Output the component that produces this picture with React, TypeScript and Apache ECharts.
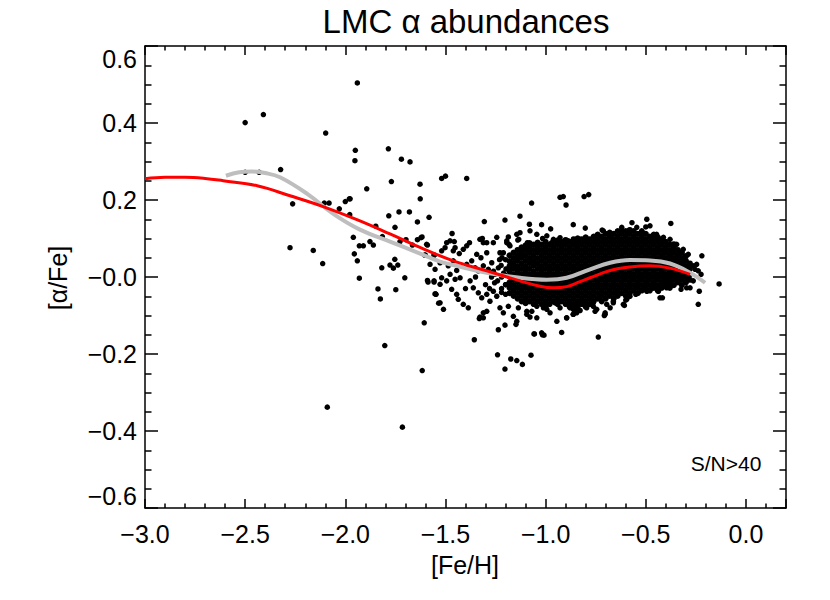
import React, { useEffect, useRef } from "react";
import * as echarts from "echarts";

const titleText = "LMC α abundances";
const xName = "[Fe/H]";
const yName = "[α/Fe]";
const noteText = "S/N>40";

// isolated stars, [Fe/H], [alpha/Fe]
const sparseStars: [number, number][] = [
  [-2.5, 0.401], [-2.409, 0.422], [-1.94, 0.504], [-2.098, 0.374], [-1.95, 0.329], [-1.952, 0.302],
  [-1.785, 0.333], [-1.72, 0.306], [-1.677, 0.299], [-2.323, 0.279], [-1.893, 0.229], [-1.77, 0.248],
  [-1.627, 0.241], [-1.519, 0.256], [-1.5, 0.262], [-1.394, 0.256], [-1.626, 0.203], [-1.98, 0.203],
  [-2.5, 0.272], [-2.43, 0.272],
  [-2.263, 0.19], [-2.276, 0.076], [-2.16, 0.069], [-2.113, 0.035], [-2.105, 0.192], [-2.081, 0.192],
  [-2.03, 0.177], [-2.0, 0.196], [-1.976, 0.203], [-1.978, 0.162], [-1.783, 0.159], [-1.732, 0.169],
  [-1.68, 0.169], [-1.64, 0.143], [-1.582, 0.155], [-1.848, 0.132], [-1.752, 0.129], [-1.96, 0.103],
  [-1.93, 0.081], [-1.91, 0.081], [-1.877, 0.092], [-1.86, 0.083], [-1.815, 0.105], [-1.727, 0.092],
  [-1.697, 0.097], [-1.64, 0.097], [-1.622, 0.102], [-1.665, 0.083], [-1.59, 0.083], [-1.6, 0.057],
  [-1.556, 0.057], [-1.955, 0.06], [-1.94, 0.042], [-1.93, -0.003], [-1.818, 0.024], [-1.777, 0.031],
  [-1.76, 0.023], [-1.738, 0.031], [-1.753, 0.046], [-1.703, -0.002], [-1.837, -0.031], [-1.825, -0.057],
  [-1.748, -0.033], [-1.587, -0.013], [-1.557, -0.013], [-1.55, -0.044], [-1.534, -0.068], [-1.606, -0.119],
  [-1.803, -0.178], [-1.616, -0.243], [-2.09, -0.338], [-1.715, -0.39],
  [-0.928, 0.207], [-0.912, 0.209], [-0.898, 0.187], [-0.808, 0.209], [-0.785, 0.214], [-1.07, 0.192],
  [-1.128, 0.158], [-1.203, 0.148], [-1.306, 0.144], [-1.081, 0.137], [-1.02, 0.136], [-0.975, 0.125],
  [-0.862, 0.136], [-0.802, 0.127], [-0.718, 0.122], [-0.569, 0.141], [-0.495, 0.15], [-0.375, 0.139],
  [-0.22, 0.055], [-0.134, -0.018], [-0.238, -0.071], [-0.233, -0.037],
  [-1.356, -0.163], [-1.236, -0.137], [-1.203, -0.125], [-1.148, -0.123], [-1.058, -0.148], [-1.02, -0.145],
  [-1.008, -0.151], [-0.92, -0.144], [-0.737, -0.156], [-1.328, -0.104], [-1.311, -0.093], [-1.078, -0.104],
  [-0.895, -0.106], [-0.845, -0.093], [-0.828, -0.087], [-0.703, -0.097], [-1.51, -0.084], [-1.547, -0.045],
  [-1.24, -0.202], [-1.174, -0.213], [-1.144, -0.217], [-1.116, -0.227], [-1.203, -0.239], [-1.073, -0.203],
  [-1.056, -0.148], [-1.016, -0.15], [-1.331, -0.108], [-0.707, -0.1],
];

// moderately crowded stars on the metal-poor side of the clump
const midStars: [number, number][] = [
  [-1.467, 0.113], [-1.617, 0.104], [-1.186, 0.104], [-1.128, 0.115], [-1.494, 0.089], [-1.456, 0.092],
  [-1.38, 0.089], [-1.316, 0.1], [-1.311, 0.089], [-1.261, 0.089], [-1.183, 0.085], [-1.139, 0.096],
  [-1.091, 0.089], [-1.015, 0.1], [-0.97, 0.089], [-0.923, 0.085], [-1.594, 0.085], [-1.604, 0.057],
  [-1.557, 0.057], [-1.519, 0.068], [-1.502, 0.076], [-1.461, 0.068], [-1.431, 0.061], [-1.411, 0.072],
  [-1.344, 0.059], [-1.323, 0.05], [-1.294, 0.063], [-1.228, 0.063], [-1.211, 0.063], [-1.194, 0.094],
  [-1.178, 0.081], [-1.144, 0.111], [-1.134, 0.098], [-1.59, -0.009], [-1.557, -0.01], [-1.527, -0.019],
  [-1.519, -0.002], [-1.494, -0.01], [-1.477, 0.007], [-1.452, -0.006], [-1.427, -0.002], [-1.552, -0.044],
  [-1.527, -0.067], [-1.469, -0.032], [-1.444, -0.045], [-1.436, -0.058], [-1.411, -0.071], [-1.386, -0.08],
  [-1.377, -0.01], [-1.361, -0.028], [-1.336, -0.041], [-1.319, -0.054], [-1.294, -0.045], [-1.278, -0.063],
  [-1.261, -0.037], [-1.244, -0.05], [-1.394, 0.033], [-1.369, 0.042], [-1.352, 0.024], [-1.336, 0.016],
  [-1.311, 0.029], [-1.286, 0.02], [-1.269, 0.037], [-1.253, 0.007], [-1.236, 0.024], [-1.294, -0.089],
  [-1.311, -0.106], [-1.228, -0.08], [-1.211, -0.093], [-1.186, -0.076], [-1.161, -0.102], [-1.144, -0.115],
  [-1.094, -0.097], [-1.069, -0.089], [-1.044, -0.106], [-1.011, -0.08], [-0.978, -0.093], [-0.944, -0.115],
  [-0.895, -0.106], [-0.862, -0.097], [-1.527, 0.037], [-1.552, 0.02], [-1.577, 0.033], [-1.486, 0.029],
  [-1.461, 0.042], [-1.444, 0.017], [-1.477, 0.094], [-1.452, 0.076], [-1.394, 0.081], [-1.328, 0.098],
  [-1.294, 0.089], [-1.244, 0.103], [-1.194, 0.089], [-1.21, 0.01], [-1.2, -0.02], [-1.22, -0.04],
  [-1.255, -0.015], [-1.27, 0.0], [-1.3, -0.02], [-1.23, 0.045], [-1.35, 0.0], [-1.4, -0.03],
  [-1.22, -0.03], [-1.22, 0.0], [-1.222, 0.03], [-1.218, 0.05], [-1.2, -0.045], [-1.2, -0.02],
  [-1.202, 0.005], [-1.198, 0.021], [-1.2, 0.045], [-1.24, -0.01], [-1.26, 0.015], [-1.28, -0.03],
];

// edge of the dense clump
const fringeStars: [number, number][] = [
  [-1.078, 0.12], [-1.044, 0.111], [-0.994, 0.107], [-0.961, 0.098], [-0.928, 0.102], [-0.887, 0.094],
  [-0.845, 0.081], [-0.712, 0.12], [-0.67, 0.111], [-0.62, 0.129], [-0.595, 0.116], [-0.545, 0.129],
  [-0.52, 0.12], [-0.479, 0.133], [-0.446, 0.111], [-0.412, 0.103], [-0.379, 0.098], [-0.346, 0.085],
  [-0.313, 0.072], [-0.288, 0.059], [-0.878, -0.08], [-0.828, -0.067], [-0.778, -0.054], [-0.728, -0.05],
  [-0.645, -0.037], [-0.545, -0.024], [-0.495, -0.019], [-0.446, -0.028], [-0.396, -0.01], [-0.346, -0.002],
  [-0.296, 0.003], [-0.279, -0.028], [-0.263, -0.01], [-0.246, 0.033], [-0.254, 0.02], [-0.612, -0.071],
  [-0.595, -0.058], [-0.495, -0.037], [-0.429, -0.054], [-0.437, -0.037], [-0.396, -0.028], [-0.762, -0.076],
  [-0.745, -0.084], [-0.695, -0.071], [-0.662, -0.063], [-0.703, -0.093], [-1.136, -0.08], [-1.094, -0.089],
  [-1.044, -0.076], [-0.994, -0.084], [-0.953, -0.067], [-0.928, -0.08], [-0.862, -0.071], [-0.795, -0.08],
  [-0.762, -0.067], [-0.607, -0.074], [-0.579, -0.05], [-0.417, -0.054], [-0.678, -0.08], [-0.662, -0.067],
  [-0.753, -0.089], [-0.845, -0.089], [-0.862, -0.097], [-0.324, -0.032], [-0.296, -0.028], [-0.379, -0.024],
  [-0.263, 0.029], [-0.238, 0.016], [-0.224, 0.007], [-0.6, -0.06], [-0.55, -0.045], [-0.5, 0.13],
];

// dense clump, listed column by column: [Fe/H], then the [alpha/Fe] values read in that column
const coreColumns: [number, number[]][] = [
  [-1.18, [-0.042, -0.028, -0.014, 0.001, 0.014, 0.028, 0.041, 0.056]],
  [-1.16, [-0.049, -0.035, -0.021, -0.007, 0.007, 0.022, 0.035, 0.049, 0.063]],
  [-1.14, [-0.056, -0.042, -0.028, -0.013, 0.0, 0.014, 0.028, 0.043, 0.056, 0.07]],
  [-1.12, [-0.063, -0.049, -0.035, -0.021, -0.006, 0.007, 0.021, 0.035, 0.05, 0.063, 0.077]],
  [-1.1, [-0.068, -0.056, -0.042, -0.028, -0.014, 0.001, 0.014, 0.028, 0.042, 0.056, 0.07, 0.082]],
  [-1.08, [-0.063, -0.049, -0.035, -0.021, -0.007, 0.007, 0.021, 0.036, 0.049, 0.063, 0.077, 0.088]],
  [-1.06, [-0.07, -0.056, -0.042, -0.028, -0.014, 0.0, 0.014, 0.029, 0.042, 0.056, 0.07, 0.084]],
  [-1.04, [-0.063, -0.049, -0.035, -0.021, -0.007, 0.007, 0.021, 0.035, 0.049, 0.064, 0.077, 0.089]],
  [-1.02, [-0.07, -0.056, -0.042, -0.028, -0.014, 0.001, 0.014, 0.028, 0.042, 0.056, 0.07, 0.084]],
  [-1.0, [-0.077, -0.063, -0.049, -0.035, -0.021, -0.007, 0.007, 0.021, 0.035, 0.049, 0.063, 0.077, 0.091]],
  [-0.98, [-0.07, -0.056, -0.042, -0.028, -0.014, 0.0, 0.014, 0.028, 0.042, 0.056, 0.07, 0.084]],
  [-0.96, [-0.063, -0.049, -0.035, -0.021, -0.007, 0.007, 0.021, 0.035, 0.049, 0.063, 0.077, 0.091]],
  [-0.94, [-0.07, -0.056, -0.042, -0.028, -0.014, 0.0, 0.014, 0.028, 0.042, 0.056, 0.07, 0.084, 0.095]],
  [-0.92, [-0.063, -0.049, -0.035, -0.021, -0.007, 0.007, 0.021, 0.035, 0.049, 0.063, 0.077, 0.091]],
  [-0.9, [-0.07, -0.056, -0.042, -0.028, -0.014, 0.0, 0.014, 0.028, 0.042, 0.056, 0.07, 0.084, 0.096]],
  [-0.88, [-0.077, -0.063, -0.049, -0.035, -0.021, -0.007, 0.007, 0.021, 0.035, 0.049, 0.063, 0.077, 0.091]],
  [-0.86, [-0.084, -0.07, -0.056, -0.042, -0.028, -0.014, 0.0, 0.014, 0.028, 0.042, 0.056, 0.07, 0.084, 0.098]],
  [-0.84, [-0.077, -0.063, -0.049, -0.035, -0.021, -0.007, 0.007, 0.021, 0.035, 0.049, 0.063, 0.077, 0.091, 0.1]],
  [-0.82, [-0.07, -0.056, -0.042, -0.028, -0.014, 0.0, 0.014, 0.028, 0.042, 0.056, 0.07, 0.084, 0.098]],
  [-0.8, [-0.077, -0.063, -0.049, -0.035, -0.021, -0.007, 0.007, 0.021, 0.035, 0.049, 0.063, 0.077, 0.091, 0.103]],
  [-0.78, [-0.07, -0.056, -0.042, -0.028, -0.014, 0.0, 0.014, 0.028, 0.042, 0.056, 0.07, 0.084, 0.098]],
  [-0.76, [-0.063, -0.049, -0.035, -0.021, -0.007, 0.007, 0.021, 0.035, 0.049, 0.063, 0.077, 0.091, 0.105]],
  [-0.74, [-0.056, -0.042, -0.028, -0.014, 0.0, 0.014, 0.028, 0.042, 0.056, 0.07, 0.084, 0.098, 0.11]],
  [-0.72, [-0.063, -0.049, -0.035, -0.021, -0.007, 0.007, 0.021, 0.035, 0.049, 0.063, 0.077, 0.091, 0.105]],
  [-0.7, [-0.056, -0.042, -0.028, -0.014, 0.0, 0.014, 0.028, 0.042, 0.056, 0.07, 0.084, 0.098, 0.112]],
  [-0.68, [-0.049, -0.035, -0.021, -0.007, 0.007, 0.021, 0.035, 0.049, 0.063, 0.077, 0.091, 0.105, 0.115]],
  [-0.66, [-0.056, -0.042, -0.028, -0.014, 0.0, 0.014, 0.028, 0.042, 0.056, 0.07, 0.084, 0.098, 0.112]],
  [-0.64, [-0.049, -0.035, -0.021, -0.007, 0.007, 0.021, 0.035, 0.049, 0.063, 0.077, 0.091, 0.105, 0.119]],
  [-0.62, [-0.042, -0.028, -0.014, 0.0, 0.014, 0.028, 0.042, 0.056, 0.07, 0.084, 0.098, 0.112, 0.121]],
  [-0.6, [-0.049, -0.035, -0.021, -0.007, 0.007, 0.021, 0.035, 0.049, 0.063, 0.077, 0.091, 0.105, 0.119]],
  [-0.58, [-0.042, -0.028, -0.014, 0.0, 0.014, 0.028, 0.042, 0.056, 0.07, 0.084, 0.098, 0.112, 0.122]],
  [-0.56, [-0.035, -0.021, -0.007, 0.007, 0.021, 0.035, 0.049, 0.063, 0.077, 0.091, 0.105, 0.119]],
  [-0.54, [-0.042, -0.028, -0.014, 0.0, 0.014, 0.028, 0.042, 0.056, 0.07, 0.084, 0.098, 0.112]],
  [-0.52, [-0.035, -0.021, -0.007, 0.007, 0.021, 0.035, 0.049, 0.063, 0.077, 0.091, 0.105, 0.117]],
  [-0.5, [-0.028, -0.014, 0.0, 0.014, 0.028, 0.042, 0.056, 0.07, 0.084, 0.098, 0.112]],
  [-0.48, [-0.035, -0.021, -0.007, 0.007, 0.021, 0.035, 0.049, 0.063, 0.077, 0.091, 0.105]],
  [-0.46, [-0.028, -0.014, 0.0, 0.014, 0.028, 0.042, 0.056, 0.07, 0.084, 0.098, 0.11]],
  [-0.44, [-0.035, -0.021, -0.007, 0.007, 0.021, 0.035, 0.049, 0.063, 0.077, 0.091, 0.103]],
  [-0.42, [-0.028, -0.014, 0.0, 0.014, 0.028, 0.042, 0.056, 0.07, 0.084, 0.098]],
  [-0.4, [-0.021, -0.007, 0.007, 0.021, 0.035, 0.049, 0.063, 0.077, 0.091]],
  [-0.38, [-0.028, -0.014, 0.0, 0.014, 0.028, 0.042, 0.056, 0.07, 0.084]],
  [-0.36, [-0.021, -0.007, 0.007, 0.021, 0.035, 0.049, 0.063, 0.077, 0.085]],
  [-0.34, [-0.014, 0.0, 0.014, 0.028, 0.042, 0.056, 0.07]],
  [-0.32, [-0.021, -0.007, 0.007, 0.021, 0.035, 0.049, 0.063]],
  [-0.3, [-0.014, 0.0, 0.014, 0.028, 0.042, 0.054]],
  [-0.28, [-0.007, 0.007, 0.021, 0.035]],
];

const grayFit: [number, number][] = [
  [-2.596, 0.263], [-2.53, 0.272], [-2.466, 0.274], [-2.4, 0.27], [-2.326, 0.259], [-2.19, 0.216],
  [-2.06, 0.164], [-1.927, 0.123], [-1.777, 0.092], [-1.642, 0.064], [-1.527, 0.04], [-1.461, 0.031],
  [-1.294, 0.011], [-1.128, -0.002], [-0.994, -0.007], [-0.895, -0.002], [-0.778, 0.02], [-0.678, 0.037],
  [-0.579, 0.044], [-0.479, 0.043], [-0.379, 0.035], [-0.279, 0.011], [-0.204, -0.015],
];

const redFit: [number, number][] = [
  [-3.0, 0.255], [-2.9, 0.259], [-2.8, 0.259], [-2.7, 0.256], [-2.61, 0.25], [-2.44, 0.237],
  [-2.276, 0.211], [-2.111, 0.183], [-1.942, 0.149], [-1.777, 0.112], [-1.627, 0.077], [-1.461, 0.042],
  [-1.294, 0.016], [-1.128, -0.01], [-1.028, -0.024], [-0.961, -0.028], [-0.895, -0.025], [-0.828, -0.012],
  [-0.778, -0.002], [-0.678, 0.017], [-0.579, 0.026], [-0.479, 0.029], [-0.379, 0.023], [-0.279, 0.007],
];

const X_MIN = -3.0;
const X_MAX = 0.2;
const Y_MIN = -0.6;
const Y_MAX = 0.6;

const FONT = '"Liberation Sans", Arial, Helvetica, sans-serif';
const MINUS = "\u2212";

function fmtX(v: number): string {
  if (Math.abs(v) < 1e-9) return "0.0";
  return (v < 0 ? MINUS : "") + Math.abs(v).toFixed(1);
}
function fmtY(v: number): string {
  if (Math.abs(v) < 1e-9) return MINUS + "0.0";
  return (v < 0 ? MINUS : "") + Math.abs(v).toFixed(1);
}

export default function App() {
  const ref = useRef<HTMLDivElement>(null);

  useEffect(() => {
    document.body.style.margin = "0";
    if (!ref.current) return;
    const chart = echarts.init(ref.current, undefined, { renderer: "svg" });

    const outerStars: [number, number][] = [...sparseStars, ...midStars, ...fringeStars];
    const coreStars: [number, number][] = [];
    coreColumns.forEach(([x, ys]) => ys.forEach((y) => coreStars.push([x, y])));

    const lineBlack = () => ({ color: "#000", width: 1.5 });

    const xAxisDef = (position: string, labels: boolean) => ({
      type: "value",
      position,
      min: X_MIN,
      max: X_MAX,
      interval: 0.5,
      axisLine: { show: true, onZero: false, lineStyle: lineBlack() },
      axisTick: { show: true, inside: true, length: 9, lineStyle: lineBlack() },
      minorTick: { show: true, splitNumber: 5, length: 4.5, lineStyle: lineBlack() },
      axisLabel: {
        show: labels,
        formatter: fmtX,
        color: "#000",
        fontSize: 25,
        fontFamily: FONT,
        margin: 13,
        showMaxLabel: false,
        showMinLabel: true,
      },
      splitLine: { show: false },
      minorSplitLine: { show: false },
    });
    const yAxisDef = (position: string, labels: boolean) => ({
      type: "value",
      position,
      min: Y_MIN,
      max: Y_MAX,
      interval: 0.2,
      axisLine: { show: true, onZero: false, lineStyle: lineBlack() },
      axisTick: { show: true, inside: true, length: 13, lineStyle: lineBlack() },
      minorTick: { show: true, splitNumber: 4, length: 6.5, lineStyle: lineBlack() },
      axisLabel: {
        show: labels,
        formatter: fmtY,
        color: "#000",
        fontSize: 25,
        fontFamily: FONT,
        margin: 8,
        verticalAlignMaxLabel: "top",
        verticalAlignMinLabel: "bottom",
      },
      splitLine: { show: false },
      minorSplitLine: { show: false },
    });

    chart.setOption({
      animation: false,
      backgroundColor: "#fff",
      grid: { left: 145, right: 44, top: 46, bottom: 92, containLabel: false },
      xAxis: [xAxisDef("bottom", true), xAxisDef("top", false)],
      yAxis: [yAxisDef("left", true), yAxisDef("right", false)],
      series: [
        {
          type: "scatter",
          xAxisIndex: 0,
          yAxisIndex: 0,
          data: outerStars,
          symbol: "circle",
          symbolSize: 5.5,
          itemStyle: { color: "#000", opacity: 1 },
          silent: true,
          large: false,
        },
        {
          type: "scatter",
          xAxisIndex: 0,
          yAxisIndex: 0,
          data: coreStars,
          symbol: "circle",
          symbolSize: 6.2,
          itemStyle: { color: "#000", opacity: 1 },
          silent: true,
          large: false,
        },
        {
          type: "line",
          xAxisIndex: 0,
          yAxisIndex: 0,
          data: grayFit,
          smooth: 0.4,
          showSymbol: false,
          lineStyle: { color: "#bebebe", width: 4 },
          silent: true,
          z: 3,
        },
        {
          type: "line",
          xAxisIndex: 0,
          yAxisIndex: 0,
          data: redFit,
          smooth: 0.4,
          showSymbol: false,
          lineStyle: { color: "#ff0000", width: 3 },
          silent: true,
          z: 4,
        },
      ],
      graphic: [
        {
          type: "text",
          x: 466,
          y: 21,
          style: { text: titleText, fontSize: 33, fontFamily: FONT, fill: "#000", align: "center", verticalAlign: "middle" },
        },
        {
          type: "text",
          x: 465,
          y: 565,
          style: { text: xName, fontSize: 25, fontFamily: FONT, fill: "#000", align: "center", verticalAlign: "middle" },
        },
        {
          type: "text",
          x: 58,
          y: 278,
          rotation: Math.PI / 2,
          style: { text: yName, fontSize: 25, fontFamily: FONT, fill: "#000", align: "center", verticalAlign: "middle" },
        },
        {
          type: "text",
          x: 726,
          y: 463,
          style: { text: noteText, fontSize: 21, fontFamily: FONT, fill: "#000", align: "center", verticalAlign: "middle" },
        },
      ],
    });

    return () => chart.dispose();
  }, []);

  return <div ref={ref} style={{ width: 830, height: 600 }} />;
}
